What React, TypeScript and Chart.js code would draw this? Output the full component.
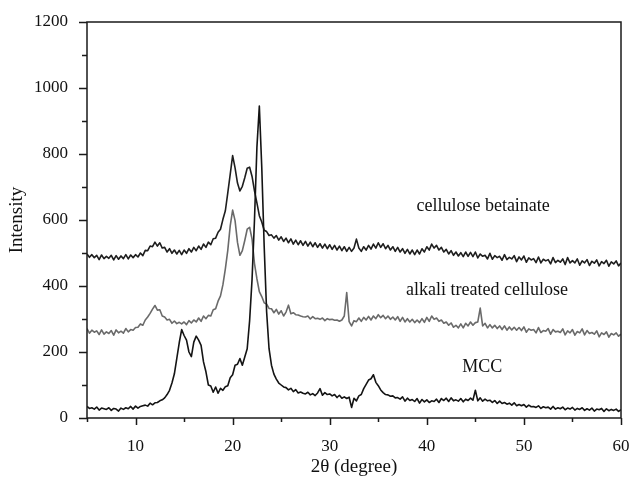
import React, { useEffect, useRef } from "react";
import { Chart, registerables } from "chart.js";

Chart.register(...registerables);

// 2θ sampling grid (degrees)
const angleStart = 5;
const angleStep = 0.25;

const mccIntensity = [
  35, 29, 31, 27, 33, 24, 30, 28, 26, 31, 23, 29, 27, 21, 30, 26, 31, 28, 35, 27,
  36, 30, 35, 37, 39, 36, 45, 40, 46, 47, 52, 55, 61, 71, 84, 106, 134, 181, 228, 268,
  250, 236, 200, 186, 230, 248, 236, 220, 170, 140, 100, 97, 78, 94, 75, 90, 84, 95, 98, 122,
  131, 160, 163, 180, 160, 185, 210, 295, 420, 600, 820, 945, 760, 520, 322, 210, 160, 133, 118, 106,
  100, 94, 92, 85, 90, 80, 86, 76, 79, 75, 73, 78, 70, 74, 68, 76, 89, 69, 77, 71,
  73, 67, 71, 62, 69, 60, 64, 59, 63, 32, 60, 52, 67, 71, 89, 102, 115, 119, 131, 108,
  98, 85, 77, 71, 70, 66, 67, 61, 62, 57, 64, 51, 60, 53, 56, 50, 59, 45, 56, 49,
  55, 47, 52, 50, 57, 47, 59, 53, 60, 50, 61, 52, 55, 51, 59, 49, 57, 53, 60, 54,
  84, 52, 61, 51, 57, 52, 54, 47, 53, 44, 51, 44, 47, 42, 45, 39, 46, 37, 41, 37,
  41, 33, 39, 34, 35, 32, 37, 29, 34, 31, 33, 27, 35, 27, 31, 28, 33, 25, 30, 27,
  32, 24, 29, 26, 31, 23, 28, 24, 30, 21, 27, 25, 29, 20, 28, 22, 26, 23, 27, 20,
  25,
];

const alkaliIntensity = [
  271, 257, 266, 260, 264, 253, 267, 254, 261, 256, 265, 251, 267, 258, 263, 257, 271, 261, 268, 266,
  274, 275, 285, 281, 297, 306, 317, 330, 341, 327, 328, 309, 306, 297, 299, 287, 294, 286, 290, 285,
  291, 283, 295, 288, 297, 291, 303, 293, 309, 301, 311, 309, 328, 331, 354, 370, 404, 452, 508, 582,
  630, 598, 532, 493, 507, 538, 572, 578, 542, 468, 422, 383, 368, 349, 345, 332, 331, 319, 329, 315,
  325, 309, 321, 342, 316, 319, 313, 312, 309, 307, 306, 309, 300, 307, 301, 302, 299, 303, 295, 301,
  298, 299, 296, 297, 293, 297, 309, 380, 292, 279, 295, 292, 303, 293, 305, 297, 308, 297, 309, 301,
  313, 304, 311, 301, 309, 299, 306, 297, 307, 293, 305, 291, 301, 291, 299, 289, 297, 289, 301, 290,
  305, 293, 309, 299, 303, 293, 297, 287, 291, 281, 288, 275, 281, 273, 285, 273, 287, 279, 291, 281,
  289, 291, 333, 279, 287, 273, 283, 273, 281, 271, 279, 268, 279, 266, 276, 267, 275, 266, 274, 265,
  276, 260, 270, 266, 268, 258, 274, 259, 265, 263, 271, 254, 268, 261, 263, 259, 270, 252, 264, 258,
  268, 251, 262, 258, 270, 252, 265, 256, 259, 254, 264, 246, 258, 253, 261, 245, 256, 252, 258, 248,
  254,
];

const betainateIntensity = [
  497, 487, 495, 486, 493, 480, 494, 483, 490, 484, 493, 479, 492, 481, 491, 483, 495, 482, 494, 486,
  495, 488, 500, 492, 508, 507, 521, 519, 533, 521, 531, 515, 517, 503, 513, 499, 509, 497, 508, 495,
  509, 499, 513, 503, 517, 507, 521, 511, 527, 517, 533, 525, 543, 545, 563, 572, 602, 628, 682, 738,
  795, 758, 712, 688, 702, 728, 757, 760, 732, 688, 652, 613, 594, 569, 565, 553, 555, 545, 553, 539,
  549, 535, 545, 531, 543, 527, 539, 525, 537, 523, 535, 521, 533, 519, 531, 517, 528, 515, 527, 513,
  525, 511, 523, 509, 521, 507, 519, 505, 517, 505, 515, 542, 515, 505, 519, 509, 523, 512, 527, 515,
  531, 517, 528, 513, 523, 509, 519, 505, 517, 503, 513, 499, 511, 497, 509, 495, 509, 497, 513, 503,
  519, 509, 527, 515, 523, 509, 517, 503, 511, 497, 507, 493, 503, 491, 501, 489, 503, 490, 502, 489,
  503, 485, 497, 490, 493, 482, 499, 481, 492, 486, 490, 478, 495, 480, 487, 482, 492, 474, 488, 479,
  491, 472, 485, 479, 483, 471, 488, 470, 481, 476, 480, 467, 486, 471, 478, 472, 482, 465, 486, 470,
  477, 470, 482, 463, 476, 470, 480, 462, 475, 469, 479, 461, 474, 468, 478, 460, 473, 467, 476, 461,
  470,
];

const xMajorTicks = [10, 20, 30, 40, 50, 60];
const xMinorTicks = [5, 15, 25, 35, 45, 55];
const yMajorTicks = [0, 200, 400, 600, 800, 1000, 1200];
const yMinorTicks = [100, 300, 500, 700, 900, 1100];

const seriesLabels = ["cellulose betainate", "alkali treated cellulose", "MCC"];
const labelAngles = [45.8, 46.2, 45.7];
const labelIntensities = [643, 388, 155];

const SERIF = '"Liberation Serif", "Times New Roman", serif';

const framePlugin = {
  id: "frameAndLabels",
  afterDraw(chart: any) {
    const { ctx, chartArea, scales } = chart;
    const xs = scales.x;
    const ys = scales.y;
    ctx.save();
    ctx.strokeStyle = "#1a1a1a";
    ctx.lineWidth = 1.5;
    ctx.strokeRect(chartArea.left, chartArea.top, chartArea.right - chartArea.left, chartArea.bottom - chartArea.top);
    ctx.beginPath();
    yMajorTicks.forEach((v) => {
      const p = Math.round(ys.getPixelForValue(v)) + 0.5;
      ctx.moveTo(chartArea.left - 8, p);
      ctx.lineTo(chartArea.left, p);
    });
    yMinorTicks.forEach((v) => {
      const p = Math.round(ys.getPixelForValue(v)) + 0.5;
      ctx.moveTo(chartArea.left - 5, p);
      ctx.lineTo(chartArea.left, p);
    });
    xMajorTicks.forEach((v) => {
      const p = Math.round(xs.getPixelForValue(v)) + 0.5;
      ctx.moveTo(p, chartArea.bottom);
      ctx.lineTo(p, chartArea.bottom + 7);
    });
    xMinorTicks.forEach((v) => {
      const p = Math.round(xs.getPixelForValue(v)) + 0.5;
      ctx.moveTo(p, chartArea.bottom);
      ctx.lineTo(p, chartArea.bottom + 4);
    });
    ctx.stroke();

    ctx.fillStyle = "#111";
    ctx.font = `18px ${SERIF}`;
    ctx.textAlign = "center";
    ctx.textBaseline = "middle";
    seriesLabels.forEach((t, i) => {
      ctx.fillText(t, xs.getPixelForValue(labelAngles[i]), ys.getPixelForValue(labelIntensities[i]));
    });
    ctx.restore();
  },
};

export default function App() {
  const canvasRef = useRef<HTMLCanvasElement | null>(null);

  useEffect(() => {
    if (!canvasRef.current) return;
    const angles = mccIntensity.map((_, i) => angleStart + i * angleStep);
    const toPoints = (arr: number[]) => arr.map((y, i) => ({ x: angles[i], y }));
    const lineStyle = { borderWidth: 1.6, pointRadius: 0, tension: 0, borderJoinStyle: "round" as const };

    const chart = new Chart(canvasRef.current, {
      type: "line",
      data: {
        datasets: [
          { label: "MCC", data: toPoints(mccIntensity), borderColor: "#141414", ...lineStyle },
          { label: "cellulose betainate", data: toPoints(betainateIntensity), borderColor: "#1e1e1e", ...lineStyle },
          { label: "alkali treated cellulose", data: toPoints(alkaliIntensity), borderColor: "#6a6a6a", ...lineStyle },
        ],
      },
      options: {
        animation: false,
        responsive: false,
        layout: { padding: { top: 22, right: 9, left: 0, bottom: 0 } },
        plugins: {
          legend: { display: false },
          tooltip: { enabled: false },
        },
        scales: {
          x: {
            type: "linear",
            min: 5,
            max: 60,
            grid: { display: false },
            border: { display: false },
            afterBuildTicks: (scale: any) => {
              scale.ticks = xMajorTicks.map((v) => ({ value: v }));
            },
            afterFit: (scale: any) => {
              scale.height = 63;
              scale.paddingLeft = 0;
              scale.paddingRight = 0;
            },
            ticks: {
              padding: 10,
              color: "#111",
              font: { family: SERIF, size: 17 },
              maxRotation: 0,
              callback: (v: any) => String(v),
            },
            title: {
              display: true,
              text: "2θ (degree)",
              color: "#111",
              font: { family: SERIF, size: 19 },
              padding: { top: 0, bottom: 3 },
            },
          },
          y: {
            type: "linear",
            min: 0,
            max: 1200,
            grid: { display: false },
            border: { display: false },
            afterBuildTicks: (scale: any) => {
              scale.ticks = yMajorTicks.map((v) => ({ value: v }));
            },
            afterFit: (scale: any) => {
              scale.width = 87;
              scale.paddingTop = 0;
              scale.paddingBottom = 0;
            },
            ticks: {
              padding: 11,
              color: "#111",
              font: { family: SERIF, size: 17 },
              callback: (v: any) => String(v),
            },
            title: {
              display: true,
              text: "Intensity",
              color: "#111",
              font: { family: SERIF, size: 19 },
              padding: { top: 6, bottom: 0 },
            },
          },
        },
      },
      plugins: [framePlugin],
    });
    return () => chart.destroy();
  }, []);

  return (
    <div style={{ position: "fixed", left: 0, top: 0, width: 630, height: 481, background: "#fff" }}>
      <canvas ref={canvasRef} width={630} height={481} />
    </div>
  );
}
